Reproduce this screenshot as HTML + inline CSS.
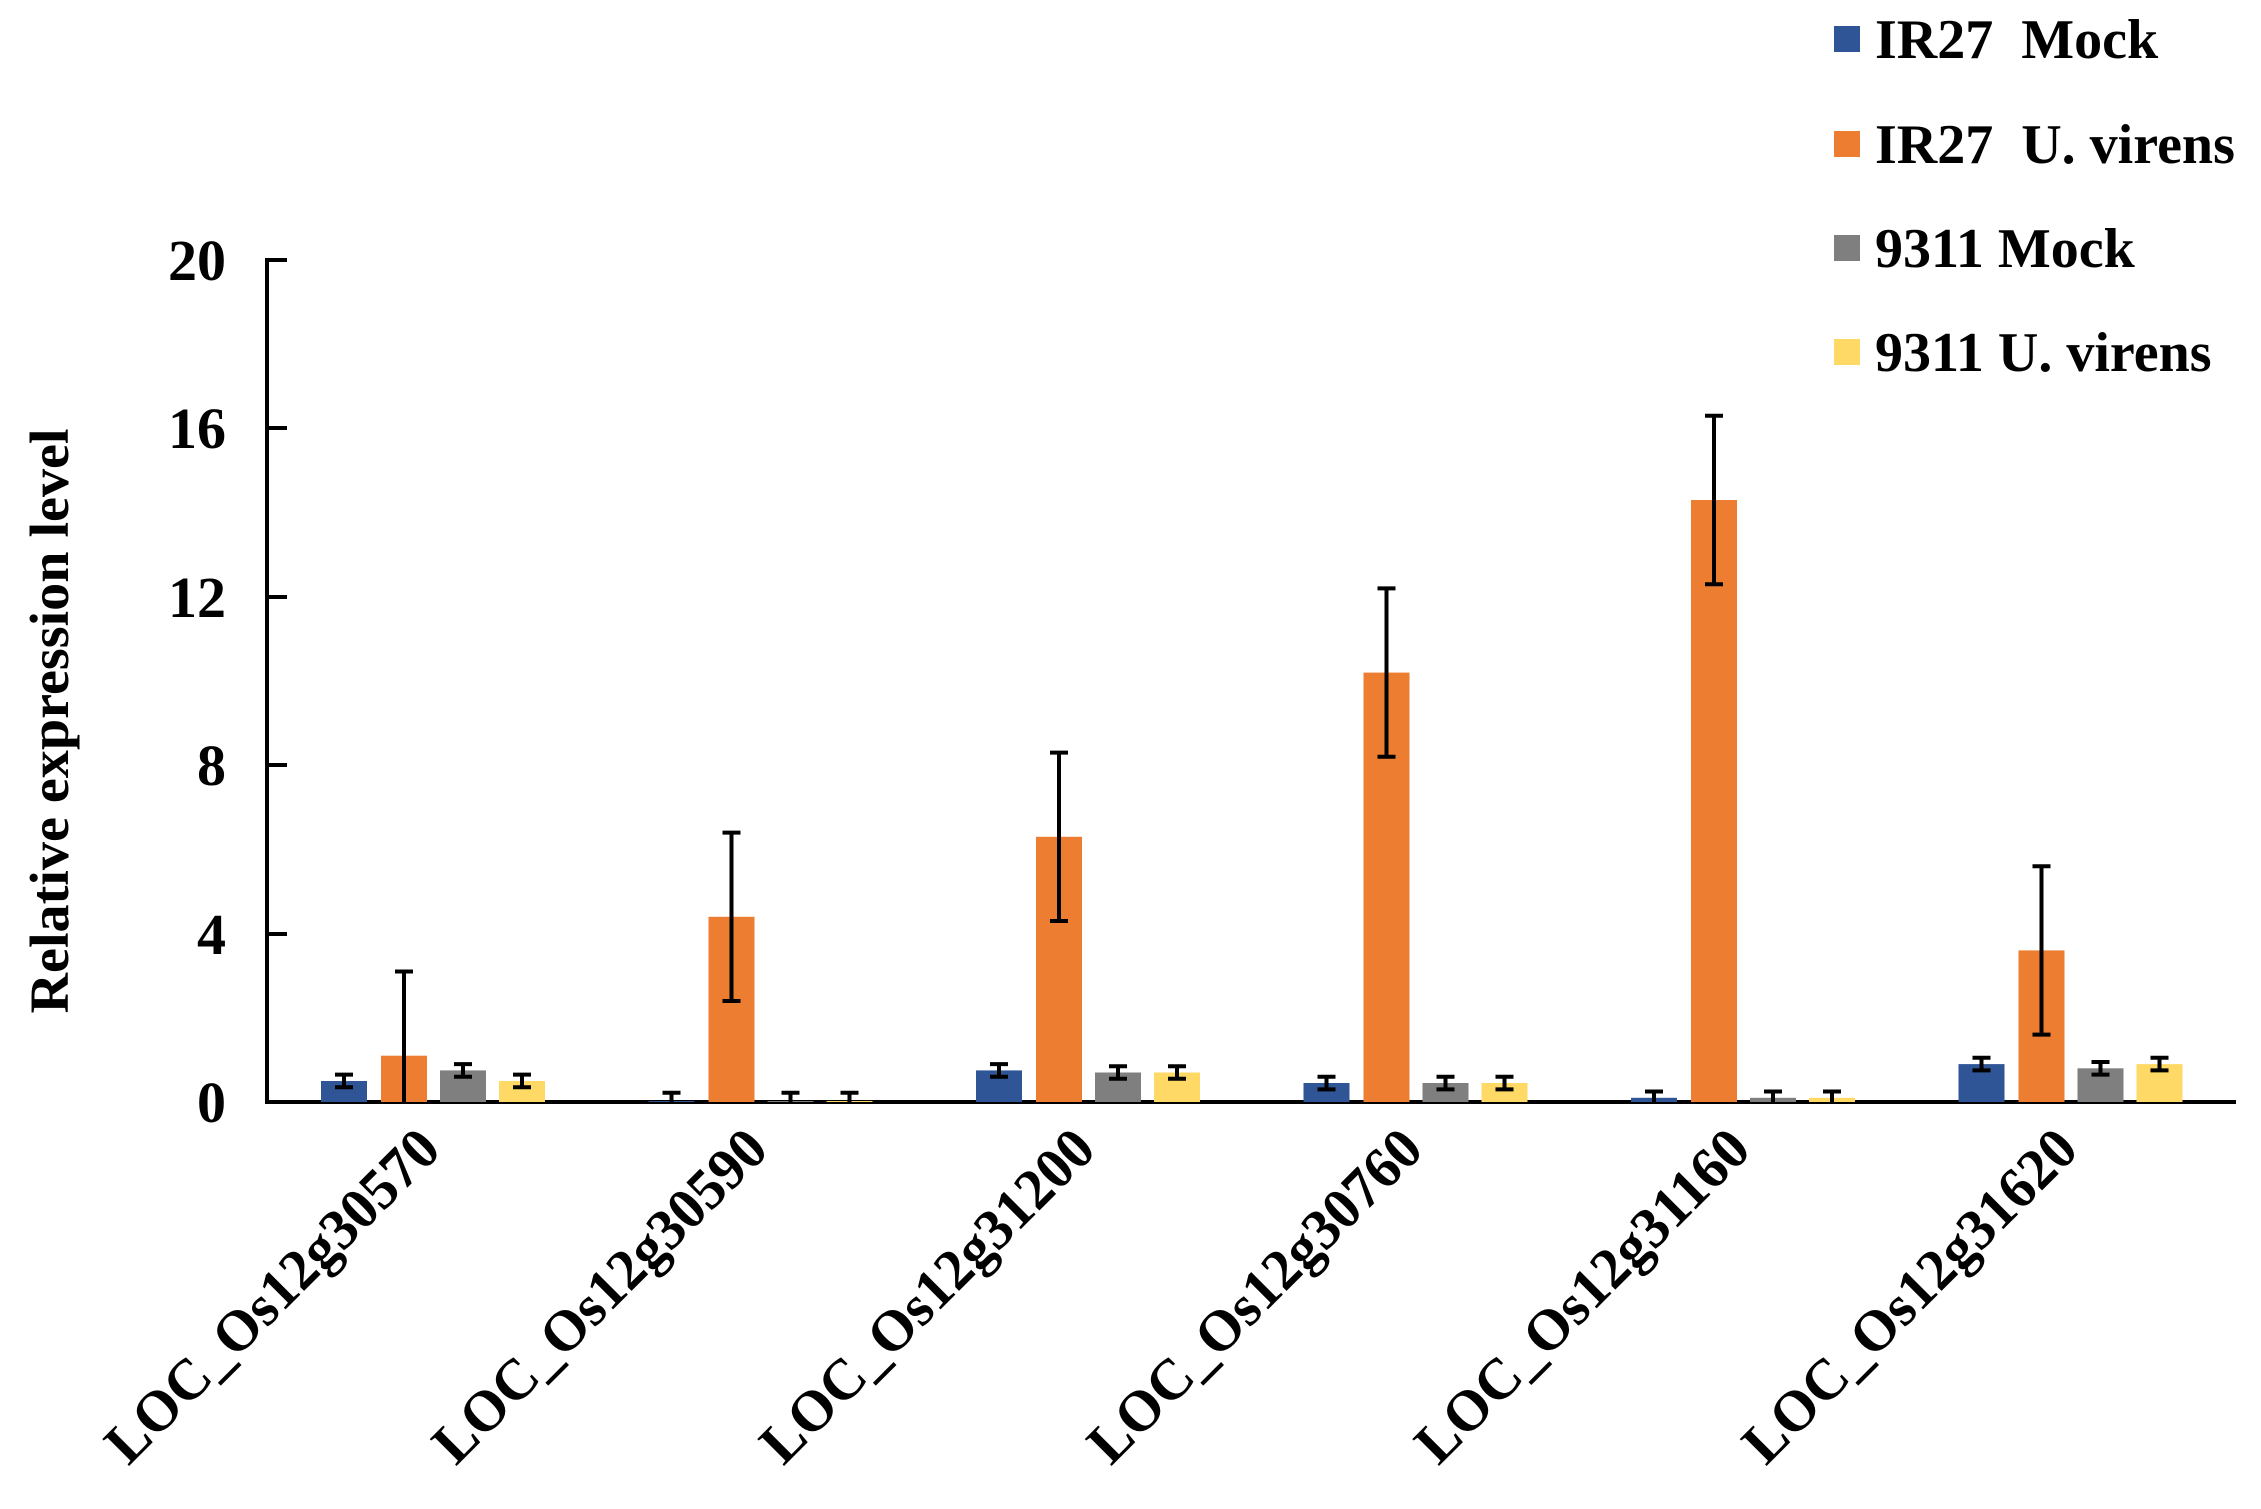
<!DOCTYPE html>
<html><head><style>body{margin:0;background:#fff}svg{display:block}</style></head><body>
<svg width="2261" height="1509" xmlns="http://www.w3.org/2000/svg" font-family="Liberation Serif, serif" font-weight="bold">
<g stroke="#000" stroke-width="4">
<line x1="267" y1="258" x2="267" y2="1104"/>
<line x1="265" y1="1102" x2="2236" y2="1102"/>
<line x1="267" y1="260" x2="287" y2="260"/>
<line x1="267" y1="428" x2="287" y2="428"/>
<line x1="267" y1="597" x2="287" y2="597"/>
<line x1="267" y1="765" x2="287" y2="765"/>
<line x1="267" y1="934" x2="287" y2="934"/>
</g>
<g font-size="58" text-anchor="end">
<text x="226" y="280">20</text><text x="226" y="448">16</text><text x="226" y="617">12</text>
<text x="226" y="785">8</text><text x="226" y="954">4</text><text x="226" y="1122">0</text>
</g>
<text transform="translate(68,721) rotate(-90)" font-size="55" text-anchor="middle" textLength="585" lengthAdjust="spacingAndGlyphs">Relative expression level</text>

<g>
<rect x="321" y="1081" width="46" height="21" fill="#2f5597"/>
<rect x="381" y="1055.7" width="46" height="46.3" fill="#ed7d31"/>
<rect x="440" y="1070.4" width="46" height="31.6" fill="#7f7f7f"/>
<rect x="499" y="1081" width="46" height="21" fill="#ffd966"/>

<rect x="648.5" y="1101" width="46" height="1" fill="#2f5597"/>
<rect x="708.5" y="916.8" width="46" height="185.2" fill="#ed7d31"/>
<rect x="767.5" y="1101" width="46" height="1" fill="#7f7f7f"/>
<rect x="826.5" y="1101" width="46" height="1" fill="#ffd966"/>

<rect x="976" y="1070.4" width="46" height="31.6" fill="#2f5597"/>
<rect x="1036" y="836.8" width="46" height="265.2" fill="#ed7d31"/>
<rect x="1095" y="1072.5" width="46" height="29.5" fill="#7f7f7f"/>
<rect x="1154" y="1072.5" width="46" height="29.5" fill="#ffd966"/>

<rect x="1303.5" y="1083" width="46" height="19" fill="#2f5597"/>
<rect x="1363.5" y="672.6" width="46" height="429.4" fill="#ed7d31"/>
<rect x="1422.5" y="1083" width="46" height="19" fill="#7f7f7f"/>
<rect x="1481.5" y="1083" width="46" height="19" fill="#ffd966"/>

<rect x="1631" y="1097.8" width="46" height="4.2" fill="#2f5597"/>
<rect x="1691" y="500" width="46" height="602" fill="#ed7d31"/>
<rect x="1750" y="1097.8" width="46" height="4.2" fill="#7f7f7f"/>
<rect x="1809" y="1097.8" width="46" height="4.2" fill="#ffd966"/>

<rect x="1958.5" y="1064.1" width="46" height="37.9" fill="#2f5597"/>
<rect x="2018.5" y="950.4" width="46" height="151.6" fill="#ed7d31"/>
<rect x="2077.5" y="1068.3" width="46" height="33.7" fill="#7f7f7f"/>
<rect x="2136.5" y="1064.1" width="46" height="37.9" fill="#ffd966"/>
</g>

<g stroke="#000" stroke-width="4" fill="none">
<path d="M344 1074.6V1087.3M335 1074.6H353M335 1087.3H353"/>
<path d="M404 971.5V1102M395 971.5H413"/>
<path d="M463 1064.1V1076.7M454 1064.1H472M454 1076.7H472"/>
<path d="M522 1074.6V1087.3M513 1074.6H531M513 1087.3H531"/>

<path d="M671.5 1092.7V1102M662.5 1092.7H680.5"/>
<path d="M731.5 832.6V1001M722.5 832.6H740.5M722.5 1001H740.5"/>
<path d="M790.5 1092.7V1102M781.5 1092.7H799.5"/>
<path d="M849.5 1092.7V1102M840.5 1092.7H858.5"/>

<path d="M999 1064.1V1076.7M990 1064.1H1008M990 1076.7H1008"/>
<path d="M1059 752.6V921M1050 752.6H1068M1050 921H1068"/>
<path d="M1118 1066.2V1078.8M1109 1066.2H1127M1109 1078.8H1127"/>
<path d="M1177 1066.2V1078.8M1168 1066.2H1186M1168 1078.8H1186"/>

<path d="M1326.5 1076.7V1089.4M1317.5 1076.7H1335.5M1317.5 1089.4H1335.5"/>
<path d="M1386.5 588.4V756.8M1377.5 588.4H1395.5M1377.5 756.8H1395.5"/>
<path d="M1445.5 1076.7V1089.4M1436.5 1076.7H1454.5M1436.5 1089.4H1454.5"/>
<path d="M1504.5 1076.7V1089.4M1495.5 1076.7H1513.5M1495.5 1089.4H1513.5"/>

<path d="M1654 1091.5V1102M1645 1091.5H1663"/>
<path d="M1714 415.8V584.2M1705 415.8H1723M1705 584.2H1723"/>
<path d="M1773 1091.5V1102M1764 1091.5H1782"/>
<path d="M1832 1091.5V1102M1823 1091.5H1841"/>

<path d="M1981.5 1057.8V1070.4M1972.5 1057.8H1990.5M1972.5 1070.4H1990.5"/>
<path d="M2041.5 866.2V1034.6M2032.5 866.2H2050.5M2032.5 1034.6H2050.5"/>
<path d="M2100.5 1062V1074.6M2091.5 1062H2109.5M2091.5 1074.6H2109.5"/>
<path d="M2159.5 1057.8V1070.4M2150.5 1057.8H2168.5M2150.5 1070.4H2168.5"/>
</g>

<g font-size="58" text-anchor="end">
<text transform="translate(443,1152) rotate(-45)" textLength="445" lengthAdjust="spacingAndGlyphs">LOC_Os12g30570</text>
<text transform="translate(770.5,1152) rotate(-45)" textLength="445" lengthAdjust="spacingAndGlyphs">LOC_Os12g30590</text>
<text transform="translate(1098,1152) rotate(-45)" textLength="445" lengthAdjust="spacingAndGlyphs">LOC_Os12g31200</text>
<text transform="translate(1425.5,1152) rotate(-45)" textLength="445" lengthAdjust="spacingAndGlyphs">LOC_Os12g30760</text>
<text transform="translate(1753,1152) rotate(-45)" textLength="445" lengthAdjust="spacingAndGlyphs">LOC_Os12g31160</text>
<text transform="translate(2080.5,1152) rotate(-45)" textLength="445" lengthAdjust="spacingAndGlyphs">LOC_Os12g31620</text>
</g>

<g font-size="56">
<rect x="1834" y="26" width="26" height="26" fill="#2f5597"/><text x="1875" y="58">IR27&#160; Mock</text>
<rect x="1834" y="131" width="26" height="26" fill="#ed7d31"/><text x="1875" y="163">IR27&#160; U. virens</text>
<rect x="1834" y="235" width="26" height="26" fill="#7f7f7f"/><text x="1875" y="267">9311 Mock</text>
<rect x="1834" y="339" width="26" height="26" fill="#ffd966"/><text x="1875" y="371">9311 U. virens</text>
</g>
</svg>
</body></html>
